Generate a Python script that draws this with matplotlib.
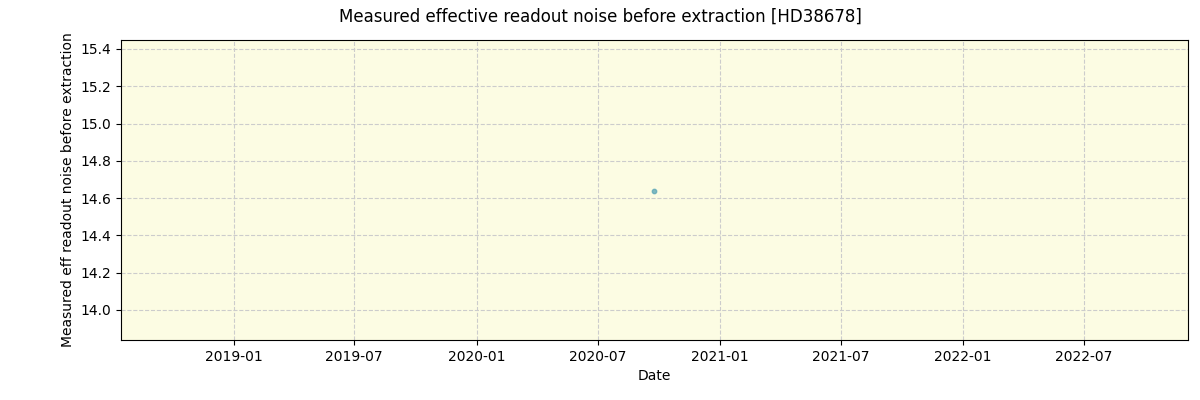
import matplotlib
matplotlib.use("Agg")
import matplotlib.pyplot as plt
import matplotlib.dates as mdates
import numpy as np

dates = np.array(["2020-09-24"], dtype="datetime64[D]")
values = [14.64]

fig, ax = plt.subplots(figsize=(12, 4), dpi=100)
fig.subplots_adjust(left=0.101, right=0.99, top=0.9, bottom=0.15)
ax.set_facecolor("#fcfce3")
ax.scatter(dates, values, s=10, color="#5fa8b8", alpha=0.8, zorder=3)
ax.set_xlim(np.datetime64("2018-07-16"), np.datetime64("2022-12-05"))
ax.set_ylim(13.839, 15.448)
ax.xaxis.set_major_locator(mdates.MonthLocator(bymonth=[1, 7]))
ax.xaxis.set_major_formatter(mdates.DateFormatter("%Y-%m"))
ax.grid(True, linestyle="--", color="#cccccc", zorder=0)
ax.set_axisbelow(True)
ax.set_xlabel("Date")
ax.set_ylabel("Measured eff readout noise before extraction")
fig.suptitle("Measured effective readout noise before extraction [HD38678]")
fig.savefig("out.png")
